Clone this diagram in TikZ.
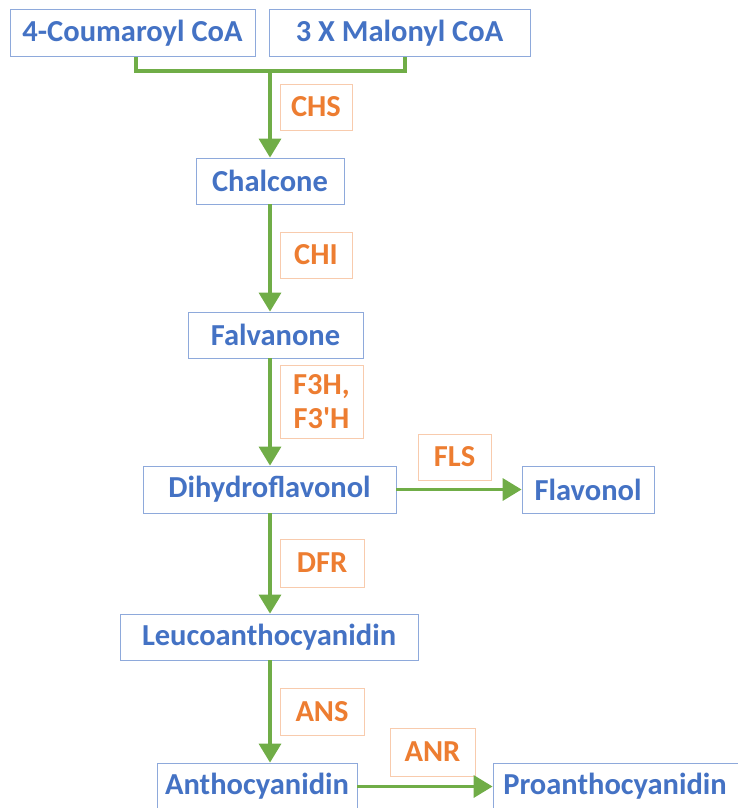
\documentclass[tikz,border=0pt]{standalone}
\usepackage{fontspec}
\setmainfont{Carlito}
\usetikzlibrary{arrows.meta}
\definecolor{txtblue}{HTML}{4472C4}
\definecolor{boxblue}{HTML}{8EA9DB}
\definecolor{txtorange}{HTML}{ED7D31}
\definecolor{boxorange}{HTML}{F8CBAD}
\definecolor{arrgreen}{HTML}{70AD47}
\begin{document}
\begin{tikzpicture}[x=1pt,y=-1pt,
  compound/.style={draw=boxblue,line width=0.8pt,fill=white,text=txtblue,
    font=\fontsize{30.5}{34}\selectfont\bfseries,inner sep=0pt,anchor=center},
  enzyme/.style={draw=boxorange,line width=0.8pt,fill=white,text=txtorange,
    font=\fontsize{30.5}{34}\selectfont\bfseries,inner sep=0pt,anchor=center,align=center},
  flow/.style={draw=arrgreen,line width=3.5pt},
  flowarrow/.style={flow,-{Triangle[width=22pt,length=19pt]}}]
\useasboundingbox (0,0) rectangle (738,808);
% compounds
\node[compound,minimum width=245,minimum height=47] (coum) at (132.5,33) {4-Coumaroyl CoA};
\node[compound,minimum width=261,minimum height=47] (malo) at (399.5,33) {3 X Malonyl CoA};
\node[compound,minimum width=148,minimum height=46] (chal) at (270,181) {Chalcone};
\node[compound,minimum width=175,minimum height=46] (falv) at (275.5,335) {Falvanone};
\node[compound,minimum width=253,minimum height=47] (dihy) at (269.5,489.5) {Dihydroflavonol};
\node[compound,minimum width=132,minimum height=47] (flav) at (588,489.5) {Flavonol};
\node[compound,minimum width=298,minimum height=46] (leuco) at (269,637) {Leucoanthocyanidin};
\node[compound,minimum width=200,minimum height=47] (antho) at (257,786.5) {Anthocyanidin};
\node[compound,minimum width=250,minimum height=47] (proan) at (618,786.5) {Proanthocyanidin\hspace*{6pt}};
% enzymes
\node[enzyme,minimum width=72,minimum height=46] (chs) at (316,107) {CHS};
\node[enzyme,minimum width=72,minimum height=46] (chi) at (316,255) {CHI};
\node[enzyme,minimum width=83,minimum height=73] (f3h) at (321.5,401.5) {F3H,\\F3\textquotesingle H};
\node[enzyme,minimum width=73,minimum height=46] (fls) at (454.5,457) {FLS};
\node[enzyme,minimum width=84,minimum height=48] (dfr) at (322,563) {DFR};
\node[enzyme,minimum width=84,minimum height=47] (ans) at (322,711.5) {ANS};
\node[enzyme,minimum width=85,minimum height=48] (anr) at (432.5,752) {ANR};
% connectors
\coordinate (cl) at ([xshift=3.5pt]coum.south);
\coordinate (cr) at ([xshift=5.5pt]malo.south);
\coordinate (junc) at (270,71);
\draw[flow] (cl) |- (junc) -| (cr);
\draw[flowarrow] (junc) -- (chal.north);
\draw[flowarrow] (chal.south) -- (chal.south |- falv.north);
\draw[flowarrow] (chal.south |- falv.south) -- (chal.south |- dihy.north);
\draw[flowarrow] (chal.south |- dihy.south) -- (chal.south |- leuco.north);
\draw[flowarrow] (chal.south |- leuco.south) -- (chal.south |- antho.north);
\draw[flowarrow] (dihy.east) -- (flav.west);
\draw[flowarrow] (antho.east) -- (proan.west);
\end{tikzpicture}
\end{document}
